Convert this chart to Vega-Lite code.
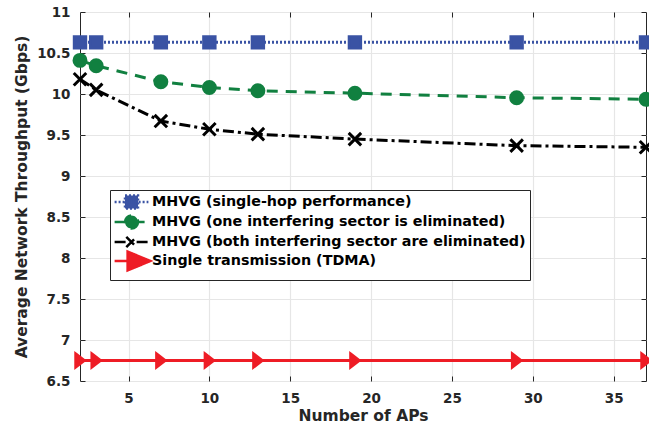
{
  "$schema": "https://vega.github.io/schema/vega-lite/v6.json",
  "width": 566,
  "height": 369,
  "autosize": {"type": "none"},
  "padding": {"left": 80, "top": 12, "right": 3, "bottom": 49},
  "config": {
    "font": "DejaVu Sans",
    "view": {"stroke": "#262626", "strokeWidth": 1},
    "axis": {
      "domain": false,
      "labelFont": "DejaVu Sans",
      "labelFontWeight": "bold",
      "labelFontSize": 13.5,
      "labelColor": "#262626",
      "tickColor": "#262626",
      "tickSize": -5,
      "tickWidth": 1,
      "gridColor": "#e6e6e6",
      "gridWidth": 1.2,
      "titleFont": "DejaVu Sans",
      "titleFontWeight": "bold",
      "titleFontSize": 15.5,
      "titleColor": "#262626"
    },
    "legend": {
      "orient": "none",
      "legendX": 30,
      "legendY": 178,
      "title": null,
      "direction": "vertical",
      "fillColor": "#ffffff",
      "strokeColor": "#262626",
      "strokeWidth": 1,
      "cornerRadius": 0,
      "padding": 4,
      "rowPadding": -9.5,
      "symbolSize": 169,
      "symbolStrokeWidth": 2.5,
      "symbolOffset": 9.5,
      "labelOffset": 12.5,
      "labelFont": "DejaVu Sans",
      "labelFontWeight": "bold",
      "labelFontSize": 14.3,
      "labelColor": "#000000",
      "labelLimit": 500
    }
  },
  "data": {
    "values": [
      {"n": 2, "v": 10.63, "s": "MHVG (single-hop performance)"},
      {"n": 3, "v": 10.63, "s": "MHVG (single-hop performance)"},
      {"n": 7, "v": 10.63, "s": "MHVG (single-hop performance)"},
      {"n": 10, "v": 10.63, "s": "MHVG (single-hop performance)"},
      {"n": 13, "v": 10.63, "s": "MHVG (single-hop performance)"},
      {"n": 19, "v": 10.63, "s": "MHVG (single-hop performance)"},
      {"n": 29, "v": 10.63, "s": "MHVG (single-hop performance)"},
      {"n": 37, "v": 10.63, "s": "MHVG (single-hop performance)"},
      {"n": 2, "v": 10.41, "s": "MHVG (one interfering sector is eliminated)"},
      {"n": 3, "v": 10.345, "s": "MHVG (one interfering sector is eliminated)"},
      {"n": 7, "v": 10.15, "s": "MHVG (one interfering sector is eliminated)"},
      {"n": 10, "v": 10.08, "s": "MHVG (one interfering sector is eliminated)"},
      {"n": 13, "v": 10.04, "s": "MHVG (one interfering sector is eliminated)"},
      {"n": 19, "v": 10.01, "s": "MHVG (one interfering sector is eliminated)"},
      {"n": 29, "v": 9.955, "s": "MHVG (one interfering sector is eliminated)"},
      {"n": 37, "v": 9.935, "s": "MHVG (one interfering sector is eliminated)"},
      {"n": 2, "v": 10.18, "s": "MHVG (both interfering sector are eliminated)"},
      {"n": 3, "v": 10.05, "s": "MHVG (both interfering sector are eliminated)"},
      {"n": 7, "v": 9.67, "s": "MHVG (both interfering sector are eliminated)"},
      {"n": 10, "v": 9.57, "s": "MHVG (both interfering sector are eliminated)"},
      {"n": 13, "v": 9.51, "s": "MHVG (both interfering sector are eliminated)"},
      {"n": 19, "v": 9.45, "s": "MHVG (both interfering sector are eliminated)"},
      {"n": 29, "v": 9.37, "s": "MHVG (both interfering sector are eliminated)"},
      {"n": 37, "v": 9.35, "s": "MHVG (both interfering sector are eliminated)"},
      {"n": 2, "v": 6.75, "s": "Single transmission (TDMA)"},
      {"n": 3, "v": 6.75, "s": "Single transmission (TDMA)"},
      {"n": 7, "v": 6.75, "s": "Single transmission (TDMA)"},
      {"n": 10, "v": 6.75, "s": "Single transmission (TDMA)"},
      {"n": 13, "v": 6.75, "s": "Single transmission (TDMA)"},
      {"n": 19, "v": 6.75, "s": "Single transmission (TDMA)"},
      {"n": 29, "v": 6.75, "s": "Single transmission (TDMA)"},
      {"n": 37, "v": 6.75, "s": "Single transmission (TDMA)"}
    ]
  },
  "layer": [
    {
      "mark": {"type": "line", "strokeCap": "butt"},
      "encoding": {
        "x": {
          "field": "n", "type": "quantitative",
          "scale": {"domain": [2, 37], "nice": false, "zero": false},
          "axis": {"orient": "bottom", "values": [5, 10, 15, 20, 25, 30, 35], "title": "Number of APs", "labelPadding": 15, "titlePadding": 4, "grid": true}
        },
        "y": {
          "field": "v", "type": "quantitative",
          "scale": {"domain": [6.5, 11], "nice": false, "zero": false},
          "axis": {"orient": "left", "values": [6.5, 7, 7.5, 8, 8.5, 9, 9.5, 10, 10.5, 11], "format": "~g", "title": "Average Network Throughput (Gbps)", "labelPadding": 15, "titlePadding": 7, "grid": true}
        },
        "stroke": {
          "field": "s", "type": "nominal",
          "scale": {
            "domain": ["MHVG (single-hop performance)", "MHVG (one interfering sector is eliminated)", "MHVG (both interfering sector are eliminated)", "Single transmission (TDMA)"],
            "range": ["#3a53a4", "#118040", "#000000", "#ee1c25"]
          },
          "legend": null
        },
        "strokeDash": {
          "field": "s", "type": "nominal",
          "scale": {
            "domain": ["MHVG (single-hop performance)", "MHVG (one interfering sector is eliminated)", "MHVG (both interfering sector are eliminated)", "Single transmission (TDMA)"],
            "range": [[2, 2], [11, 8], [11, 4, 3, 4], [1, 0]]
          },
          "legend": null
        },
        "strokeWidth": {
          "field": "s", "type": "nominal",
          "scale": {
            "domain": ["MHVG (single-hop performance)", "MHVG (one interfering sector is eliminated)", "MHVG (both interfering sector are eliminated)", "Single transmission (TDMA)"],
            "range": [3, 3, 3, 4]
          },
          "legend": null
        }
      }
    },
    {
      "mark": {"type": "point", "filled": true, "opacity": 1, "strokeWidth": 3},
      "encoding": {
        "x": {"field": "n", "type": "quantitative", "axis": null},
        "y": {"field": "v", "type": "quantitative", "axis": null},
        "fill": {
          "field": "s", "type": "nominal",
          "scale": {
            "domain": ["MHVG (single-hop performance)", "MHVG (one interfering sector is eliminated)", "MHVG (both interfering sector are eliminated)", "Single transmission (TDMA)"],
            "range": ["#3a53a4", "#118040", "#000000", "#ee1c25"]
          },
          "legend": null
        },
        "stroke": {
          "field": "s", "type": "nominal",
          "scale": {
            "domain": ["MHVG (single-hop performance)", "MHVG (one interfering sector is eliminated)", "MHVG (both interfering sector are eliminated)", "Single transmission (TDMA)"],
            "range": ["#3a53a4", "#118040", "#000000", "#ee1c25"]
          },
          "legend": null
        },
        "shape": {
          "field": "s", "type": "nominal",
          "scale": {
            "domain": ["MHVG (single-hop performance)", "MHVG (one interfering sector is eliminated)", "MHVG (both interfering sector are eliminated)", "Single transmission (TDMA)"],
            "range": ["square", "circle", "M-1,-1L1,1M-1,1L1,-1", "M-0.65,-1L0.65,0L-0.65,1Z"]
          },
          "legend": null
        },
        "size": {
          "field": "s", "type": "nominal",
          "scale": {
            "domain": ["MHVG (single-hop performance)", "MHVG (one interfering sector is eliminated)", "MHVG (both interfering sector are eliminated)", "Single transmission (TDMA)"],
            "range": [130, 169, 121, 289]
          },
          "legend": null
        }
      }
    },
    {
      "transform": [{"filter": "datum.n < 0"}],
      "mark": {"type": "point", "filled": true, "opacity": 1},
      "encoding": {
        "x": {
          "field": "n", "type": "quantitative",
          "axis": {"orient": "top", "values": [5, 10, 15, 20, 25, 30, 35], "labels": false, "grid": false, "title": null}
        },
        "y": {
          "field": "v", "type": "quantitative",
          "axis": {"orient": "right", "values": [6.5, 7, 7.5, 8, 8.5, 9, 9.5, 10, 10.5, 11], "labels": false, "grid": false, "title": null}
        },
        "fill": {
          "field": "s", "type": "nominal",
          "scale": {
            "domain": ["MHVG (single-hop performance)", "MHVG (one interfering sector is eliminated)", "MHVG (both interfering sector are eliminated)", "Single transmission (TDMA)"],
            "range": ["#3a53a4", "#118040", "#000000", "#ee1c25"]
          }
        },
        "stroke": {
          "field": "s", "type": "nominal",
          "scale": {
            "domain": ["MHVG (single-hop performance)", "MHVG (one interfering sector is eliminated)", "MHVG (both interfering sector are eliminated)", "Single transmission (TDMA)"],
            "range": ["#3a53a4", "#118040", "#000000", "#ee1c25"]
          }
        },
        "strokeDash": {
          "field": "s", "type": "nominal",
          "scale": {
            "domain": ["MHVG (single-hop performance)", "MHVG (one interfering sector is eliminated)", "MHVG (both interfering sector are eliminated)", "Single transmission (TDMA)"],
            "range": [[2, 2], [11, 8], [11, 4, 3, 4], [1, 0]]
          }
        },
        "shape": {
          "field": "s", "type": "nominal",
          "scale": {
            "domain": ["MHVG (single-hop performance)", "MHVG (one interfering sector is eliminated)", "MHVG (both interfering sector are eliminated)", "Single transmission (TDMA)"],
            "range": [
              "M-2.6,0H2.6M-1,-1H1V1H-1Z",
              "M-2.6,0H2.6M1,0A1,1,0,1,1,-1,0A1,1,0,1,1,1,0Z",
              "M-2.6,0H2.6M-0.8,-0.8L0.8,0.8M-0.8,0.8L0.8,-0.8",
              "M-2.6,0H-0.6M-0.6,-1.45L2.9,0L-0.6,1.45Z"
            ]
          }
        }
      }
    }
  ],
  "resolve": {
    "scale": {
      "fill": "independent",
      "stroke": "independent",
      "strokeDash": "independent",
      "shape": "independent",
      "size": "independent",
      "strokeWidth": "independent"
    },
    "axis": {"x": "independent", "y": "independent"}
  }
}
